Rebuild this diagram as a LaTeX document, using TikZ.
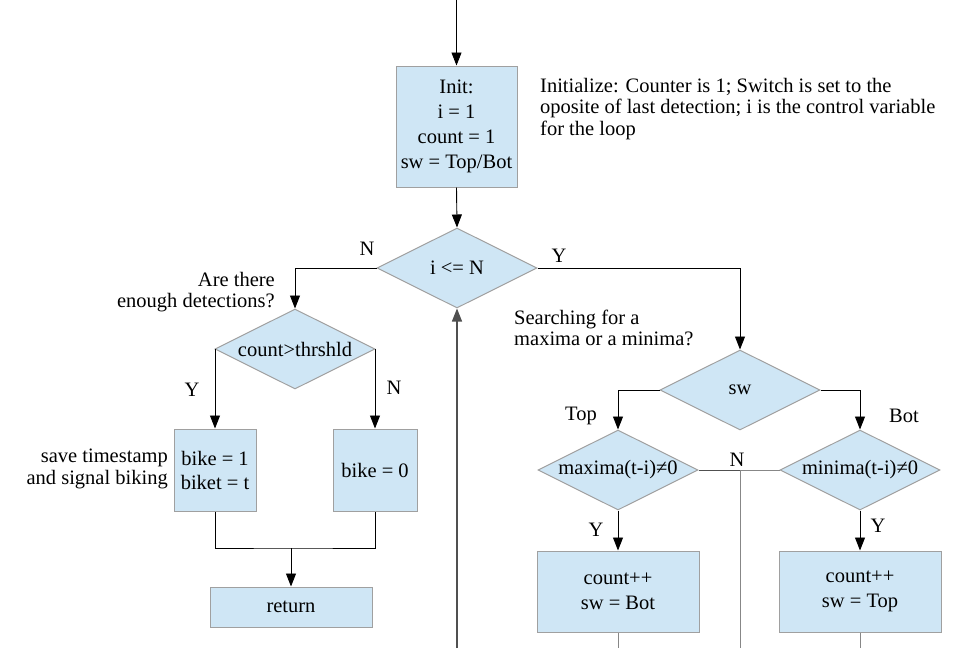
\documentclass[tikz,border=0pt]{standalone}
\usepackage{fontspec}
\setmainfont{Liberation Serif}
\usetikzlibrary{arrows.meta,shapes.geometric}
\definecolor{boxfill}{RGB}{207,230,245}
\definecolor{boxline}{RGB}{160,160,160}
\definecolor{loopline}{RGB}{80,80,80}
\definecolor{thinline}{RGB}{135,135,135}
\tikzset{
  base/.style={font=\rmfamily\fontsize{20.5}{25}\selectfont},
  procbox/.style={base,draw=boxline,fill=boxfill,line width=1pt,rectangle,align=center,inner sep=0pt},
  decis/.style={base,draw=boxline,fill=boxfill,line width=1pt,diamond,inner sep=0pt,minimum width=160pt,minimum height=80pt,aspect=2},
  lbl/.style={base,inner sep=0pt},
  note/.style={font=\rmfamily\fontsize{20.5}{21.5}\selectfont,inner sep=0pt},
  arr/.style={draw=black,line width=0.9pt,-{Triangle[length=13pt,width=10pt]}},
  conn/.style={draw=black,line width=0.9pt},
  back/.style={draw=thinline,line width=0.9pt}
}
\begin{document}
\begin{tikzpicture}[x=1pt,y=-1pt]
\useasboundingbox (0,0) rectangle (979,648);
% nodes
\node[procbox,minimum width=121pt,minimum height=121pt] (init) at (456.5,126.5) {Init:\\i = 1\\count = 1\\sw = Top/Bot};
\node[decis,label={[lbl]center:i <= N}] (d1) at (457,268) {};
\node[decis,label={[lbl]center:count>thrshld}] (d2) at (295,349) {};
\node[procbox,minimum width=82pt,minimum height=82pt,font=\rmfamily\fontsize{20.5}{24}\selectfont] (b1) at (215,470) {bike = 1\\biket = t};
\node[procbox,minimum width=84pt,minimum height=82pt] (b0) at (375,470) {bike = 0};
\node[procbox,minimum width=162pt,minimum height=40pt] (ret) at (291,607) {return};
\node[decis,label={[lbl]center:sw}] (d3) at (740,390) {};
\node[decis,label={[lbl]center:maxima(t-i)≠0}] (d4) at (618,470) {};
\node[decis,label={[lbl]center:minima(t-i)≠0}] (d5) at (860,470) {};
\node[procbox,minimum width=162pt,minimum height=81pt] (c1) at (618,591.5) {count++\\sw = Bot};
\node[procbox,minimum width=162pt,minimum height=81pt] (c2) at (860,591.5) {count++\\sw = Top};
% annotations
\node[note,anchor=west,align=left] (ann1) at (540,109) {Initialize: Counter is 1; Switch is set to the\\oposite of last detection; i is the control variable\\for the loop};
\node[note,anchor=east,align=right] (ann2) at (275,292) {Are there\\enough detections?};
\node[note,anchor=west,align=left] (ann3) at (514,328) {Searching for a\\maxima or a minima?};
\node[note,anchor=east,align=right] (ann4) at (168,469) {save timestamp\\and signal biking};
% branch labels
\node[lbl] (ln1) at (367,249) {N};
\node[lbl] (ly1) at (559,256) {Y};
\node[lbl] (ly2) at (192,390) {Y};
\node[lbl] (ln2) at (394,388) {N};
\node[lbl] (ltop) at (581,416) {Top};
\node[lbl] (lbot) at (904,416) {Bot};
\node[lbl] (ln3) at (737,460) {N};
\node[lbl] (ly3) at (596,530) {Y};
\node[lbl] (ly4) at (878,526) {Y};
% coordinates
\coordinate (start) at (456.5,0);
\coordinate (loopin) at (457,648);
\coordinate (j) at (291,548);
\coordinate (m) at (740,470);
\coordinate (mout) at (740,648);
\coordinate (c1out) at (618,648);
\coordinate (c2out) at (860,648);
% connectors
\draw[arr] (start) -- (init.north);
\draw[arr] (init.south) -- (d1.north);
\draw[arr] (d1.west) -| (d2.north);
\draw[arr] (d1.east) -| (d3.north);
\draw[arr] (d2.west) -| (b1.north);
\draw[arr] (d2.east) -| (b0.north);
\draw[conn] (b1.south) |- (j) -| (b0.south);
\draw[arr] (j) -- (ret.north);
\draw[arr,draw=loopline,line width=1.2pt] (loopin) -- (d1.south);
\draw[arr] (d3.west) -| (d4.north);
\draw[arr] (d3.east) -| (d5.north);
\draw[conn,draw=loopline] (d4.east) -- (m);
\draw[back] (d5.west) -- (m) -- (mout);
\draw[arr] (d4.south) -- (c1.north);
\draw[arr] (d5.south) -- (c2.north);
\draw[back] (c1.south) -- (c1out);
\draw[back] (c2.south) -- (c2out);
\end{tikzpicture}
\end{document}
